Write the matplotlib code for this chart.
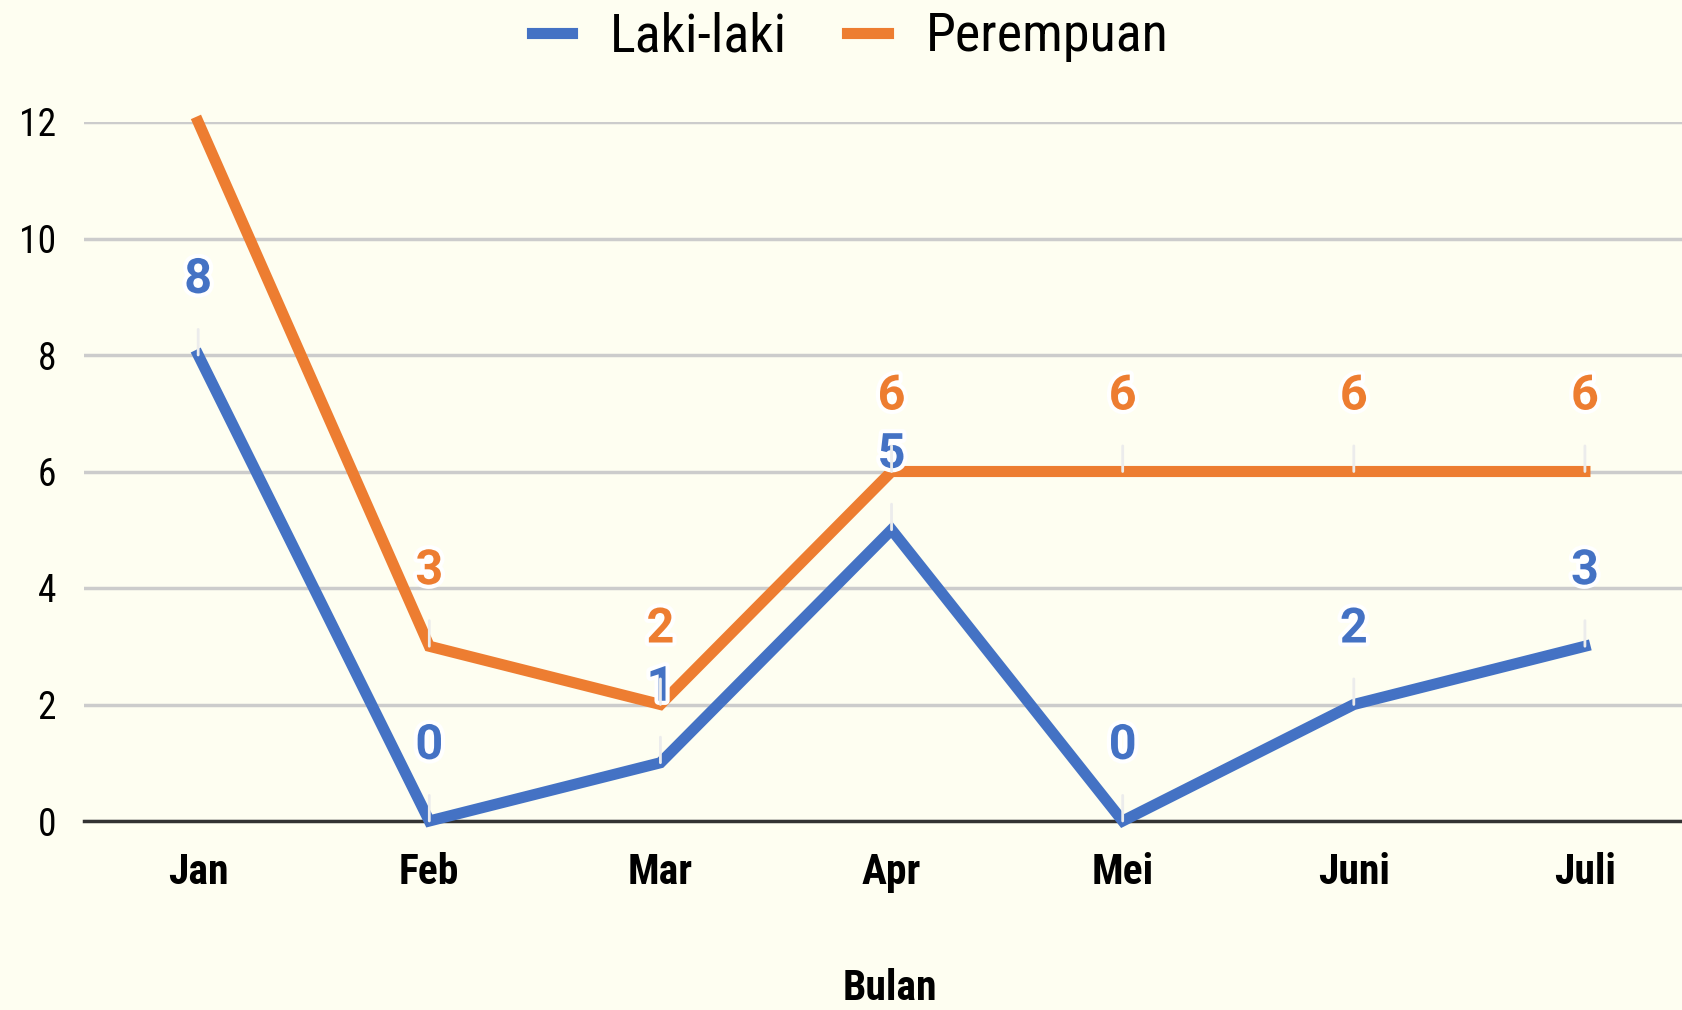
import matplotlib.pyplot as plt
import matplotlib.patheffects as pe
from matplotlib import font_manager

bulan = ["Jan", "Feb", "Mar", "Apr", "Mei", "Juni", "Juli"]
laki = [8, 0, 1, 5, 0, 2, 3]
perempuan = [12, 3, 2, 6, 6, 6, 6]

names = {f.name for f in font_manager.fontManager.ttflist}
fam = "DejaVu Sans"
for cand in ["Roboto Condensed", "Open Sans Condensed", "Liberation Sans Narrow", "Noto Sans Condensed"]:
    if cand in names:
        fam = cand
        break
plt.rcParams["font.family"] = [fam, "DejaVu Sans"]
plt.rcParams["font.stretch"] = "condensed"

bg = "#FEFEF1"
biru = "#4472C4"
oranye = "#ED7D31"

fig = plt.figure(figsize=(16.82, 10.10), dpi=100, facecolor=bg)
ax = fig.add_axes([84 / 1682, 1 - 821 / 1010, 1 - 84 / 1682, (821 - 122) / 1010])
ax.set_facecolor(bg)

x = list(range(len(bulan)))
ax.plot(x, laki, color=biru, lw=8, solid_joinstyle="miter", clip_on=False, zorder=3, label="Laki-laki")
ax.plot(x, perempuan, color=oranye, lw=8, solid_joinstyle="miter", clip_on=False, zorder=3, label="Perempuan")

# data labels with leader lines (labels above top of plot are cut off like the original)
for series, col in [(laki, biru), (perempuan, oranye)]:
    for xi, v in zip(x, series):
        if v >= 12:
            continue
        ax.annotate(str(v), (xi, v), xytext=(0, 54), textcoords="offset points",
                    ha="center", va="center", fontsize=35, fontweight="bold", color=col,
                    family=["Roboto", "DejaVu Sans"], fontstretch="normal",
                    zorder=5, annotation_clip=False,
                    path_effects=[pe.withStroke(linewidth=6, foreground="white")],
                    arrowprops=dict(arrowstyle="-", color="#ECECEC", lw=2,
                                    shrinkA=17, shrinkB=0, zorder=2))

ax.set_xlim(-0.494, 6.42)
ax.set_ylim(0, 12)
ax.set_yticks(range(0, 13, 2))
ax.set_xticks(x)
ax.set_xticklabels(bulan, fontsize=30, fontweight="bold")
ax.tick_params(axis="y", labelsize=27, length=0, pad=20)
ax.tick_params(axis="x", length=0, pad=22)
ax.grid(axis="y", color="#CCCCCC", lw=2.5, zorder=0)
ax.set_axisbelow(True)
for s in ["top", "right", "left"]:
    ax.spines[s].set_visible(False)
ax.spines["bottom"].set_color("#333333")
ax.spines["bottom"].set_linewidth(2.5)

fig.text(890 / 1682, 1 - 989 / 1010, "Bulan", ha="center", va="center",
         fontsize=30, fontweight="bold")

fig.legend(loc="center", bbox_to_anchor=(850 / 1682, 1 - 37 / 1010), ncol=2,
           frameon=False, fontsize=39, handlelength=0.75, handletextpad=0.7,
           columnspacing=1.1)

fig.savefig("out.png", dpi=100, facecolor=bg)
